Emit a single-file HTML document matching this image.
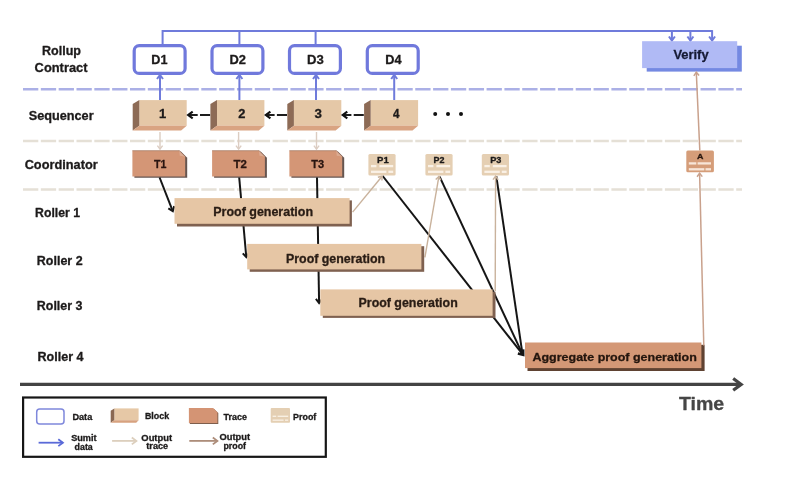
<!DOCTYPE html>
<html><head><meta charset="utf-8"><style>
html,body{margin:0;padding:0;background:#fff;}
body{width:805px;height:478px;overflow:hidden;}
svg{display:block;filter:blur(0.4px);}
text{font-family:"Liberation Sans", sans-serif;font-weight:bold;stroke-width:0.3px;stroke-linejoin:round;}
</style></head><body>
<svg width="805" height="478" viewBox="0 0 805 478">
<rect width="805" height="478" fill="#fff"/>

<text x="42.00" y="55.3" font-size="12.2" fill="#1c1a1a" stroke="#1c1a1a" textLength="38.97" lengthAdjust="spacingAndGlyphs">Rollup</text>
<text x="34.63" y="72.3" font-size="12.2" fill="#1c1a1a" stroke="#1c1a1a" textLength="52.85" lengthAdjust="spacingAndGlyphs">Contract</text>
<text x="28.76" y="120.4" font-size="12.2" fill="#1c1a1a" stroke="#1c1a1a" textLength="64.87" lengthAdjust="spacingAndGlyphs">Sequencer</text>
<text x="24.67" y="168.6" font-size="12.2" fill="#1c1a1a" stroke="#1c1a1a" textLength="73.04" lengthAdjust="spacingAndGlyphs">Coordinator</text>
<text x="35.11" y="216.8" font-size="12.2" fill="#1c1a1a" stroke="#1c1a1a" textLength="44.90" lengthAdjust="spacingAndGlyphs">Roller 1</text>
<text x="36.84" y="265.0" font-size="12.2" fill="#1c1a1a" stroke="#1c1a1a" textLength="45.79" lengthAdjust="spacingAndGlyphs">Roller 2</text>
<text x="36.84" y="310.1" font-size="12.2" fill="#1c1a1a" stroke="#1c1a1a" textLength="45.64" lengthAdjust="spacingAndGlyphs">Roller 3</text>
<text x="37.49" y="360.6" font-size="12.2" fill="#1c1a1a" stroke="#1c1a1a" textLength="46.03" lengthAdjust="spacingAndGlyphs">Roller 4</text>
<line x1="23" y1="89.3" x2="742" y2="89.3" stroke="#abb0e6" stroke-width="2.5" stroke-dasharray="15.3 2.53"/>
<line x1="23" y1="141.1" x2="742" y2="141.1" stroke="#e5e0d6" stroke-width="2.5" stroke-dasharray="15.3 2.53"/>
<line x1="23" y1="189.6" x2="742" y2="189.6" stroke="#e5e0d6" stroke-width="2.5" stroke-dasharray="15.3 2.53"/>
<polyline points="162.6,44.5 162.6,31.1 712.1,31.1" fill="none" stroke="#6f7bdb" stroke-width="2"/>
<line x1="239.4" y1="31.1" x2="239.4" y2="44.5" stroke="#6f7bdb" stroke-width="2"/>
<line x1="315.6" y1="31.1" x2="315.6" y2="44.5" stroke="#6f7bdb" stroke-width="2"/>
<line x1="671.9" y1="31.1" x2="671.9" y2="40.5" stroke="#6f7bdb" stroke-width="2"/>
<polyline points="668.90,36.50 671.90,40.50 674.90,36.50" fill="none" stroke="#6f7bdb" stroke-width="2" stroke-linejoin="miter" stroke-linecap="butt"/>
<line x1="690.4" y1="31.1" x2="690.4" y2="40.5" stroke="#6f7bdb" stroke-width="2"/>
<polyline points="687.40,36.50 690.40,40.50 693.40,36.50" fill="none" stroke="#6f7bdb" stroke-width="2" stroke-linejoin="miter" stroke-linecap="butt"/>
<line x1="712.1" y1="30.1" x2="712.1" y2="40.5" stroke="#6f7bdb" stroke-width="2"/>
<polyline points="709.10,36.50 712.10,40.50 715.10,36.50" fill="none" stroke="#6f7bdb" stroke-width="2" stroke-linejoin="miter" stroke-linecap="butt"/>
<rect x="134.2" y="45.7" width="50.9" height="27.7" rx="5" fill="#fff" stroke="#7079dc" stroke-width="3.2"/>
<text x="151.27" y="63.8" font-size="12.5" fill="#1c1a1a" stroke="#1c1a1a" textLength="16.17" lengthAdjust="spacingAndGlyphs">D1</text>
<rect x="212.0" y="45.7" width="50.9" height="27.7" rx="5" fill="#fff" stroke="#7079dc" stroke-width="3.2"/>
<text x="229.43" y="63.8" font-size="12.5" fill="#1c1a1a" stroke="#1c1a1a" textLength="16.49" lengthAdjust="spacingAndGlyphs">D2</text>
<rect x="289.5" y="45.7" width="50.9" height="27.7" rx="5" fill="#fff" stroke="#7079dc" stroke-width="3.2"/>
<text x="307.00" y="63.8" font-size="12.5" fill="#1c1a1a" stroke="#1c1a1a" textLength="16.77" lengthAdjust="spacingAndGlyphs">D3</text>
<rect x="367.3" y="45.7" width="50.9" height="27.7" rx="5" fill="#fff" stroke="#7079dc" stroke-width="3.2"/>
<text x="385.30" y="63.8" font-size="12.5" fill="#1c1a1a" stroke="#1c1a1a" textLength="16.28" lengthAdjust="spacingAndGlyphs">D4</text>
<rect x="646.7" y="45.7" width="95.1" height="25.9" fill="#7489e2"/>
<rect x="642.1" y="41.2" width="95.1" height="26.9" fill="#b0baf5"/>
<text x="673.42" y="59.0" font-size="12.9" fill="#161a35" stroke="#161a35" textLength="35.17" lengthAdjust="spacingAndGlyphs">Verify</text>
<line x1="160.0" y1="100" x2="160.0" y2="75" stroke="#6f7bdb" stroke-width="2"/>
<polyline points="163.00,79.00 160.00,75.00 157.00,79.00" fill="none" stroke="#6f7bdb" stroke-width="2" stroke-linejoin="miter" stroke-linecap="butt"/>
<line x1="239.4" y1="100" x2="239.4" y2="75" stroke="#6f7bdb" stroke-width="2"/>
<polyline points="242.40,79.00 239.40,75.00 236.40,79.00" fill="none" stroke="#6f7bdb" stroke-width="2" stroke-linejoin="miter" stroke-linecap="butt"/>
<line x1="316.0" y1="100" x2="316.0" y2="75" stroke="#6f7bdb" stroke-width="2"/>
<polyline points="319.00,79.00 316.00,75.00 313.00,79.00" fill="none" stroke="#6f7bdb" stroke-width="2" stroke-linejoin="miter" stroke-linecap="butt"/>
<line x1="394.2" y1="100" x2="394.2" y2="75" stroke="#6f7bdb" stroke-width="2"/>
<polyline points="397.20,79.00 394.20,75.00 391.20,79.00" fill="none" stroke="#6f7bdb" stroke-width="2" stroke-linejoin="miter" stroke-linecap="butt"/>
<rect x="139.30" y="100.1" width="47.40" height="25.70" fill="#e5c8a7"/>
<polygon points="139.30,100.1 132.7,104.10 132.7,130.60 139.30,125.80" fill="#8d6b56"/>
<polygon points="139.30,125.80 186.70,125.80 181.10,130.60 132.7,130.60" fill="#d9a482"/>
<text x="159.03" y="118.4" font-size="12.0" fill="#1c1a1a" stroke="#1c1a1a" textLength="7.22" lengthAdjust="spacingAndGlyphs">1</text>
<rect x="217.00" y="100.1" width="47.40" height="25.70" fill="#e5c8a7"/>
<polygon points="217.00,100.1 210.4,104.10 210.4,130.60 217.00,125.80" fill="#8d6b56"/>
<polygon points="217.00,125.80 264.40,125.80 258.80,130.60 210.4,130.60" fill="#d9a482"/>
<text x="238.30" y="118.4" font-size="12.0" fill="#1c1a1a" stroke="#1c1a1a" textLength="7.16" lengthAdjust="spacingAndGlyphs">2</text>
<rect x="293.90" y="100.1" width="47.40" height="25.70" fill="#e5c8a7"/>
<polygon points="293.90,100.1 287.3,104.10 287.3,130.60 293.90,125.80" fill="#8d6b56"/>
<polygon points="293.90,125.80 341.30,125.80 335.70,130.60 287.3,130.60" fill="#d9a482"/>
<text x="314.44" y="118.4" font-size="12.0" fill="#1c1a1a" stroke="#1c1a1a" textLength="7.41" lengthAdjust="spacingAndGlyphs">3</text>
<rect x="370.70" y="100.1" width="47.40" height="25.70" fill="#e5c8a7"/>
<polygon points="370.70,100.1 364.1,104.10 364.1,130.60 370.70,125.80" fill="#8d6b56"/>
<polygon points="370.70,125.80 418.10,125.80 412.50,130.60 364.1,130.60" fill="#d9a482"/>
<text x="393.06" y="118.4" font-size="12.0" fill="#1c1a1a" stroke="#1c1a1a" textLength="6.50" lengthAdjust="spacingAndGlyphs">4</text>
<line x1="210.1" y1="115.0" x2="200.0" y2="115.0" stroke="#111" stroke-width="1.9"/>
<line x1="197.70000000000002" y1="115.0" x2="189.4" y2="115.0" stroke="#111" stroke-width="1.9"/>
<polyline points="192.70,111.55 188.10,115.00 192.70,118.45" fill="none" stroke="#111" stroke-width="2.1" stroke-linejoin="miter" stroke-linecap="butt"/>
<line x1="287.0" y1="115.0" x2="276.90000000000003" y2="115.0" stroke="#111" stroke-width="1.9"/>
<line x1="274.6" y1="115.0" x2="267.1" y2="115.0" stroke="#111" stroke-width="1.9"/>
<polyline points="270.40,111.55 265.80,115.00 270.40,118.45" fill="none" stroke="#111" stroke-width="2.1" stroke-linejoin="miter" stroke-linecap="butt"/>
<line x1="363.8" y1="115.0" x2="353.70000000000005" y2="115.0" stroke="#111" stroke-width="1.9"/>
<line x1="351.40000000000003" y1="115.0" x2="344.0" y2="115.0" stroke="#111" stroke-width="1.9"/>
<polyline points="347.30,111.55 342.70,115.00 347.30,118.45" fill="none" stroke="#111" stroke-width="2.1" stroke-linejoin="miter" stroke-linecap="butt"/>
<circle cx="435.2" cy="113.9" r="2" fill="#111"/>
<circle cx="448.0" cy="113.9" r="2" fill="#111"/>
<circle cx="461.0" cy="113.9" r="2" fill="#111"/>
<line x1="160.0" y1="132.0" x2="160.0" y2="149.2" stroke="#dccdc2" stroke-width="1.4"/>
<polyline points="157.38,145.70 160.00,149.20 162.62,145.70" fill="none" stroke="#dccdc2" stroke-width="1.4" stroke-linejoin="miter" stroke-linecap="butt"/>
<line x1="238.6" y1="132.0" x2="238.6" y2="149.2" stroke="#dccdc2" stroke-width="1.4"/>
<polyline points="235.97,145.70 238.60,149.20 241.22,145.70" fill="none" stroke="#dccdc2" stroke-width="1.4" stroke-linejoin="miter" stroke-linecap="butt"/>
<line x1="316.5" y1="132.0" x2="316.5" y2="149.2" stroke="#dccdc2" stroke-width="1.4"/>
<polyline points="313.88,145.70 316.50,149.20 319.12,145.70" fill="none" stroke="#dccdc2" stroke-width="1.4" stroke-linejoin="miter" stroke-linecap="butt"/>
<polygon points="134.4,151.70000000000002 181.2,151.70000000000002 187.2,157.70000000000002 187.2,177.70000000000002 134.4,177.70000000000002" fill="#655550"/>
<polygon points="132.4,150.4 179.2,150.4 185.2,156.4 185.2,176.4 132.4,176.4" fill="#d49676"/>
<line x1="132.4" y1="150.70000000000002" x2="179.2" y2="150.70000000000002" stroke="#9a7866" stroke-width="0.6"/>
<polygon points="179.2,150.4 185.2,156.4 179.79999999999998,155.8" fill="#dcab92"/>
<line x1="179.2" y1="150.4" x2="185.2" y2="156.4" stroke="#8e6c5c" stroke-width="0.7"/>
<text x="153.88" y="168.0" font-size="11.4" fill="#2a1510" stroke="#2a1510" textLength="12.45" lengthAdjust="spacingAndGlyphs">T1</text>
<polygon points="214.1,151.70000000000002 260.9,151.70000000000002 266.9,157.70000000000002 266.9,177.70000000000002 214.1,177.70000000000002" fill="#655550"/>
<polygon points="212.1,150.4 258.9,150.4 264.9,156.4 264.9,176.4 212.1,176.4" fill="#d49676"/>
<line x1="212.1" y1="150.70000000000002" x2="258.9" y2="150.70000000000002" stroke="#9a7866" stroke-width="0.6"/>
<polygon points="258.9,150.4 264.9,156.4 259.5,155.8" fill="#dcab92"/>
<line x1="258.9" y1="150.4" x2="264.9" y2="156.4" stroke="#8e6c5c" stroke-width="0.7"/>
<text x="233.53" y="168.0" font-size="11.4" fill="#2a1510" stroke="#2a1510" textLength="13.35" lengthAdjust="spacingAndGlyphs">T2</text>
<polygon points="291.4,151.70000000000002 338.2,151.70000000000002 344.2,157.70000000000002 344.2,177.70000000000002 291.4,177.70000000000002" fill="#655550"/>
<polygon points="289.4,150.4 336.2,150.4 342.2,156.4 342.2,176.4 289.4,176.4" fill="#d49676"/>
<line x1="289.4" y1="150.70000000000002" x2="336.2" y2="150.70000000000002" stroke="#9a7866" stroke-width="0.6"/>
<polygon points="336.2,150.4 342.2,156.4 336.8,155.8" fill="#dcab92"/>
<line x1="336.2" y1="150.4" x2="342.2" y2="156.4" stroke="#8e6c5c" stroke-width="0.7"/>
<text x="311.37" y="168.0" font-size="11.4" fill="#2a1510" stroke="#2a1510" textLength="12.87" lengthAdjust="spacingAndGlyphs">T3</text>
<rect x="368.4" y="153.9" width="27.2" height="21.5" rx="1.5" fill="#e5cfb3"/>
<text x="377.07" y="162.5" font-size="8.4" fill="#1c1a1a" stroke="#1c1a1a" textLength="11.65" lengthAdjust="spacingAndGlyphs">P1</text>
<line x1="371.0" y1="166.1" x2="376.4" y2="166.1" stroke="#faf1e6" stroke-width="2.3"/>
<line x1="379.4" y1="166.1" x2="393.2" y2="166.1" stroke="#faf1e6" stroke-width="2.3"/>
<line x1="371.0" y1="171.8" x2="386.4" y2="171.8" stroke="#faf1e6" stroke-width="2.3"/>
<line x1="388.4" y1="171.8" x2="393.2" y2="171.8" stroke="#faf1e6" stroke-width="2.3"/>
<rect x="425.4" y="153.9" width="27.2" height="21.5" rx="1.5" fill="#e5cfb3"/>
<text x="433.51" y="162.5" font-size="8.4" fill="#1c1a1a" stroke="#1c1a1a" textLength="10.95" lengthAdjust="spacingAndGlyphs">P2</text>
<line x1="428.0" y1="166.1" x2="433.4" y2="166.1" stroke="#faf1e6" stroke-width="2.3"/>
<line x1="436.4" y1="166.1" x2="450.2" y2="166.1" stroke="#faf1e6" stroke-width="2.3"/>
<line x1="428.0" y1="171.8" x2="443.4" y2="171.8" stroke="#faf1e6" stroke-width="2.3"/>
<line x1="445.4" y1="171.8" x2="450.2" y2="171.8" stroke="#faf1e6" stroke-width="2.3"/>
<rect x="481.8" y="153.9" width="27.2" height="21.5" rx="1.5" fill="#e5cfb3"/>
<text x="490.17" y="162.5" font-size="8.4" fill="#1c1a1a" stroke="#1c1a1a" textLength="11.20" lengthAdjust="spacingAndGlyphs">P3</text>
<line x1="484.40000000000003" y1="166.1" x2="489.8" y2="166.1" stroke="#faf1e6" stroke-width="2.3"/>
<line x1="492.8" y1="166.1" x2="506.6" y2="166.1" stroke="#faf1e6" stroke-width="2.3"/>
<line x1="484.40000000000003" y1="171.8" x2="499.8" y2="171.8" stroke="#faf1e6" stroke-width="2.3"/>
<line x1="501.8" y1="171.8" x2="506.6" y2="171.8" stroke="#faf1e6" stroke-width="2.3"/>
<rect x="686.3" y="150.5" width="27.6" height="21.7" rx="1.5" fill="#d59d79"/>
<text x="696.92" y="159.2" font-size="7.6" fill="#2a1810" stroke="#2a1810" textLength="6.43" lengthAdjust="spacingAndGlyphs">A</text>
<line x1="688.8" y1="163.4" x2="696.3" y2="163.4" stroke="#f7e6d8" stroke-width="2.3"/>
<line x1="697.5999999999999" y1="163.4" x2="711.0" y2="163.4" stroke="#f7e6d8" stroke-width="2.3"/>
<line x1="688.8" y1="169.3" x2="704.3" y2="169.3" stroke="#f7e6d8" stroke-width="2.3"/>
<line x1="705.5" y1="169.3" x2="711.0" y2="169.3" stroke="#f7e6d8" stroke-width="2.3"/>
<line x1="159.6" y1="177.5" x2="172.36" y2="210.08" stroke="#151515" stroke-width="2.0"/>
<polyline points="168.34,208.44 172.80,211.20 174.20,206.14" fill="none" stroke="#151515" stroke-width="2.0" stroke-linejoin="miter" stroke-linecap="butt"/>
<line x1="239.2" y1="177.5" x2="246.19" y2="256.00" stroke="#151515" stroke-width="2.0"/>
<polyline points="242.79,253.30 246.30,257.20 249.06,252.74" fill="none" stroke="#151515" stroke-width="2.0" stroke-linejoin="miter" stroke-linecap="butt"/>
<line x1="317.0" y1="177.5" x2="319.08" y2="301.80" stroke="#151515" stroke-width="2.0"/>
<polyline points="315.88,298.85 319.10,303.00 322.18,298.75" fill="none" stroke="#151515" stroke-width="2.0" stroke-linejoin="miter" stroke-linecap="butt"/>
<line x1="382.7" y1="176.0" x2="522.5" y2="354.2" stroke="#151515" stroke-width="2"/>
<line x1="439.6" y1="176.6" x2="522.5" y2="354.2" stroke="#151515" stroke-width="2"/>
<line x1="496.3" y1="176.2" x2="522.5" y2="354.2" stroke="#151515" stroke-width="2"/>
<polyline points="517.88,353.49 523.30,355.00 523.23,349.38" fill="none" stroke="#151515" stroke-width="2.4" stroke-linejoin="miter" stroke-linecap="butt"/>
<line x1="352.6" y1="212.1" x2="382.1" y2="176.2" stroke="#c9b29c" stroke-width="1.4"/>
<polyline points="381.91,180.57 382.10,176.20 377.85,177.24" fill="none" stroke="#c9b29c" stroke-width="1.4" stroke-linejoin="miter" stroke-linecap="butt"/>
<line x1="424.9" y1="257.4" x2="438.9" y2="176.4" stroke="#c9b29c" stroke-width="1.4"/>
<polyline points="440.89,180.30 438.90,176.40 435.72,179.40" fill="none" stroke="#c9b29c" stroke-width="1.4" stroke-linejoin="miter" stroke-linecap="butt"/>
<line x1="495.2" y1="291.0" x2="495.6" y2="176.2" stroke="#c9b29c" stroke-width="1.4"/>
<polyline points="498.21,179.71 495.60,176.20 492.96,179.69" fill="none" stroke="#c9b29c" stroke-width="1.4" stroke-linejoin="miter" stroke-linecap="butt"/>
<rect x="177.0" y="200.4" width="174.90" height="26.10" fill="#7f6150"/>
<rect x="174.5" y="198.1" width="175.10" height="25.70" fill="#e6c6a5"/>
<text x="213.30" y="216.1" font-size="11.9" fill="#2a1d15" stroke="#2a1d15" textLength="99.70" lengthAdjust="spacingAndGlyphs">Proof generation</text>
<rect x="249.7" y="246.20000000000002" width="174.50" height="25.60" fill="#7f6150"/>
<rect x="247.2" y="243.9" width="174.20" height="25.50" fill="#e6c6a5"/>
<text x="286.02" y="262.5" font-size="11.9" fill="#2a1d15" stroke="#2a1d15" textLength="99.12" lengthAdjust="spacingAndGlyphs">Proof generation</text>
<rect x="322.8" y="291.7" width="172.70" height="26.20" fill="#7f6150"/>
<rect x="320.3" y="289.4" width="172.30" height="26.40" fill="#e6c6a5"/>
<text x="358.58" y="307.1" font-size="11.9" fill="#2a1d15" stroke="#2a1d15" textLength="99.13" lengthAdjust="spacingAndGlyphs">Proof generation</text>
<rect x="527.5" y="344.8" width="177.10" height="26.20" fill="#5f4232"/>
<rect x="525.0" y="342.5" width="176.40" height="25.60" fill="#d49876"/>
<text x="532.48" y="361.1" font-size="11.6" fill="#24160e" stroke="#24160e" textLength="164.32" lengthAdjust="spacingAndGlyphs">Aggregate proof generation</text>
<line x1="703.8" y1="345.5" x2="699.6" y2="173.2" stroke="#c9a18c" stroke-width="1.5"/>
<polyline points="702.31,176.63 699.60,173.20 697.06,176.76" fill="none" stroke="#c9a18c" stroke-width="1.5" stroke-linejoin="miter" stroke-linecap="butt"/>
<line x1="699.8" y1="150.5" x2="696.3" y2="72.2" stroke="#c9a18c" stroke-width="1.5"/>
<polyline points="699.08,75.58 696.30,72.20 693.83,75.81" fill="none" stroke="#c9a18c" stroke-width="1.5" stroke-linejoin="miter" stroke-linecap="butt"/>
<line x1="20" y1="384.4" x2="740" y2="384.4" stroke="#444" stroke-width="3.2"/>
<polyline points="733.2,378.5 741.2,384.4 733.2,390.3" fill="none" stroke="#444" stroke-width="3.2"/>
<text x="678.91" y="410.2" font-size="18.6" fill="#464646" stroke="#464646" textLength="45.31" lengthAdjust="spacingAndGlyphs">Time</text>
<rect x="23.1" y="397.5" width="302.7" height="59.3" fill="#fff" stroke="#161616" stroke-width="2.2"/>
<rect x="36.7" y="409.1" width="27.3" height="14.8" rx="3" fill="#fff" stroke="#7f88dc" stroke-width="1.5"/>
<text x="72.44" y="419.8" font-size="8.8" fill="#1c1a1a" stroke="#1c1a1a" textLength="19.81" lengthAdjust="spacingAndGlyphs">Data</text>
<rect x="114.3" y="408.4" width="24.3" height="11.9" fill="#e6c8a6"/>
<polygon points="114.3,408.4 110.7,410.8 110.7,422.7 114.3,420.3" fill="#8a6852"/>
<polygon points="114.3,420.3 138.6,420.3 136.2,422.7 110.7,422.7" fill="#d7a27f"/>
<text x="144.90" y="419.2" font-size="8.8" fill="#1c1a1a" stroke="#1c1a1a" textLength="24.24" lengthAdjust="spacingAndGlyphs">Block</text>
<polygon points="189.8,408.9 214.10000000000002,408.9 218.3,413.09999999999997 218.3,424.0 189.8,424.0" fill="#7e5e4c"/>
<polygon points="188.9,408.0 213.20000000000002,408.0 217.4,412.2 217.4,423.1 188.9,423.1" fill="#d49474"/>
<text x="223.63" y="419.7" font-size="8.8" fill="#1c1a1a" stroke="#1c1a1a" textLength="23.45" lengthAdjust="spacingAndGlyphs">Trace</text>
<rect x="270.7" y="408.0" width="19.3" height="14.7" rx="1" fill="#e4cfb3"/>
<line x1="272.6" y1="416.3" x2="276.2" y2="416.3" stroke="#f8efe2" stroke-width="1.4"/>
<line x1="277.6" y1="416.3" x2="288.2" y2="416.3" stroke="#f8efe2" stroke-width="1.4"/>
<line x1="272.6" y1="420.2" x2="283.6" y2="420.2" stroke="#f8efe2" stroke-width="1.4"/>
<line x1="285.0" y1="420.2" x2="288.2" y2="420.2" stroke="#f8efe2" stroke-width="1.4"/>
<text x="293.13" y="419.7" font-size="8.8" fill="#1c1a1a" stroke="#1c1a1a" textLength="23.19" lengthAdjust="spacingAndGlyphs">Proof</text>
<line x1="38.6" y1="442.7" x2="62.9" y2="442.7" stroke="#5a6ad8" stroke-width="1.8"/>
<polyline points="58.30,446.15 62.90,442.70 58.30,439.25" fill="none" stroke="#5a6ad8" stroke-width="1.8" stroke-linejoin="miter" stroke-linecap="butt"/>
<text x="71.21" y="441.3" font-size="8.8" fill="#1c1a1a" stroke="#1c1a1a" textLength="25.36" lengthAdjust="spacingAndGlyphs">Sumit</text>
<text x="74.60" y="449.6" font-size="8.8" fill="#1c1a1a" stroke="#1c1a1a" textLength="18.17" lengthAdjust="spacingAndGlyphs">data</text>
<line x1="112.1" y1="440.9" x2="136.4" y2="440.9" stroke="#dccfbd" stroke-width="1.8"/>
<polyline points="131.80,444.35 136.40,440.90 131.80,437.45" fill="none" stroke="#dccfbd" stroke-width="1.8" stroke-linejoin="miter" stroke-linecap="butt"/>
<text x="141.33" y="440.7" font-size="8.8" fill="#1c1a1a" stroke="#1c1a1a" textLength="30.78" lengthAdjust="spacingAndGlyphs">Output</text>
<text x="146.28" y="448.6" font-size="8.8" fill="#1c1a1a" stroke="#1c1a1a" textLength="21.92" lengthAdjust="spacingAndGlyphs">trace</text>
<line x1="189.3" y1="440.9" x2="217.4" y2="440.9" stroke="#ad8d7a" stroke-width="1.8"/>
<polyline points="212.80,444.35 217.40,440.90 212.80,437.45" fill="none" stroke="#ad8d7a" stroke-width="1.8" stroke-linejoin="miter" stroke-linecap="butt"/>
<text x="219.49" y="440.1" font-size="8.8" fill="#1c1a1a" stroke="#1c1a1a" textLength="30.54" lengthAdjust="spacingAndGlyphs">Output</text>
<text x="223.46" y="449.2" font-size="8.8" fill="#1c1a1a" stroke="#1c1a1a" textLength="22.59" lengthAdjust="spacingAndGlyphs">proof</text>
</svg>
</body></html>
